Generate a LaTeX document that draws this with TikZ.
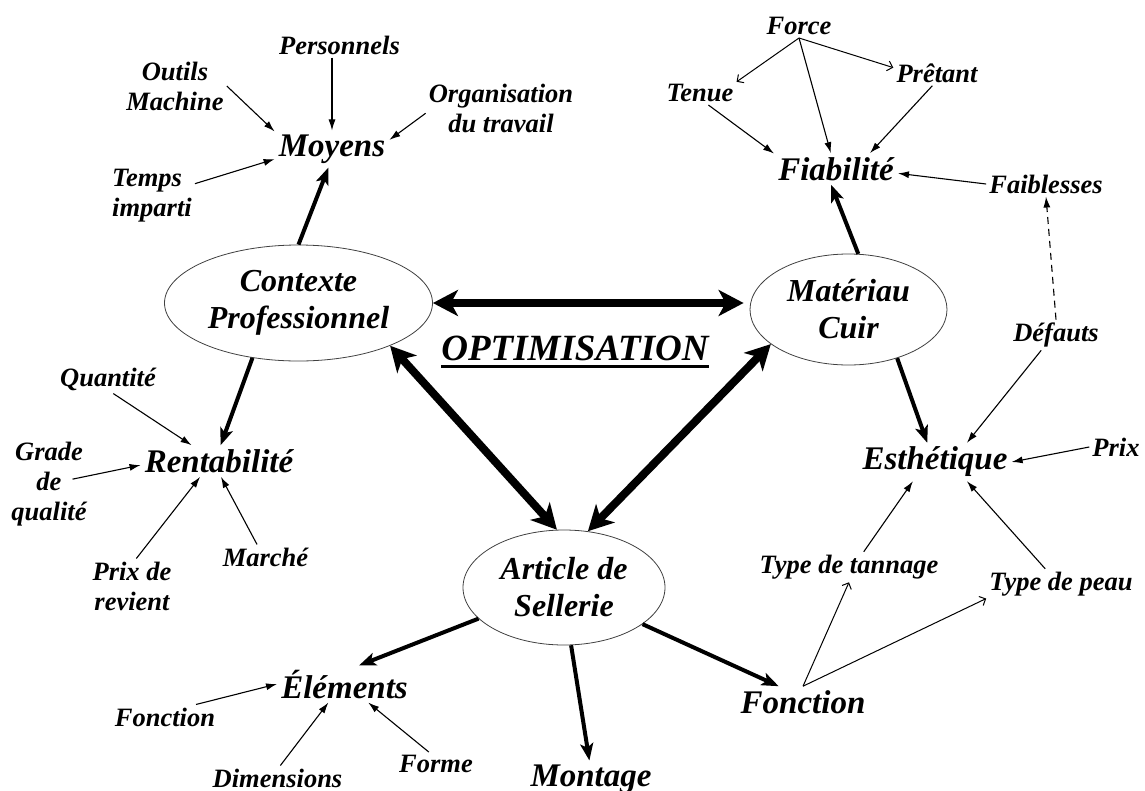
\documentclass[tikz,border=0pt]{standalone}
\usepackage{fontspec}
\setmainfont{Liberation Serif}
\usetikzlibrary{shapes.geometric,arrows.meta}

\newcommand{\boldunder}[1]{\vtop{\hbox{#1}\kern3.5pt\hrule height 3pt}}

\tikzset{
  hub/.style={ellipse, draw=black!75, line width=0.8pt, inner sep=0pt, align=center,
    font=\fontsize{32}{37}\selectfont\bfseries\itshape},
  topic/.style={inner sep=4pt, font=\fontsize{33}{38}\selectfont\bfseries\itshape},
  leaf/.style={inner sep=3pt, align=center, font=\fontsize{26.5}{30}\selectfont\bfseries\itshape},
  headline/.style={inner sep=2pt, font=\fontsize{37}{42}\selectfont\bfseries\itshape},
  bond/.style={line width=8pt, {Stealth[length=25pt,width=26pt,inset=7pt]}-{Stealth[length=25pt,width=26pt,inset=7pt]}},
  link/.style={line width=4pt, -{Stealth[length=17pt,width=13pt,inset=4pt]}},
  feed/.style={line width=1.1pt, -{Latex[length=11pt,width=7pt]}},
  hint/.style={line width=1pt, -{Straight Barb[length=5pt,width=10pt]}},
}

\begin{document}
\begin{tikzpicture}[x=1pt, y=-1pt]
    \useasboundingbox (0,0) rectangle (1145,790);

    % define nodes
    \node[hub, minimum width=268pt, minimum height=116pt] (contexte) at (298.5,303) {Contexte\\Professionnel};
    \node[hub, minimum width=197pt, minimum height=111pt] (materiau) at (848.5,309.5) {Matériau\\Cuir};
    \node[hub, minimum width=202pt, minimum height=115pt] (article) at (564,587.5) {Article de\\Sellerie};
    \node[headline] (optim) at (575,352) {\boldunder{OPTIMISATION}};

    \node[topic] (moyens) at (332,149) {Moyens};
    \node[topic] (rentab) at (219,461) {Rentabilité};
    \node[topic] (fiab) at (836,169) {Fiabilité};
    \node[topic] (esth) at (935,462) {Esthétique};
    \node[topic] (elements) at (344.5,684) {Éléments};
    \node[topic] (fonction) at (803,702) {Fonction};
    \node[topic] (montage) at (591,779) {Montage};

    \node[leaf] (personnels) at (339.5,45) {Personnels};
    \node[leaf] (outils) at (175,86) {Outils\\Machine};
    \node[leaf] (orga) at (501,108) {Organisation\\du travail};
    \node[leaf, align=left] (temps) at (152,196) {Temps\\imparti};
    \node[leaf] (quantite) at (108,379) {Quantité};
    \node[leaf] (grade) at (49,484) {Grade\\de\\qualité};
    \node[leaf] (prixrev) at (132,586) {Prix de\\revient};
    \node[leaf] (marche) at (265.5,557) {Marché};
    \node[leaf] (fonctel) at (165,717) {Fonction};
    \node[leaf] (dimensions) at (277.5,778) {Dimensions};
    \node[leaf] (forme) at (436,764) {Forme};
    \node[leaf] (tannage) at (849,567) {Type de tannage};
    \node[leaf] (peau) at (1061,584) {Type de peau};
    \node[leaf] (prix) at (1116,447) {Prix};
    \node[leaf] (force) at (799,26) {Force};
    \node[leaf] (tenue) at (700,93) {Tenue};
    \node[leaf] (pretant) at (937,73) {Prêtant};
    \node[leaf] (faiblesses) at (1046,184) {Faiblesses};
    \node[leaf] (defauts) at (1056,335) {Défauts};

    % connect the hubs
    \draw[bond, shorten >=6pt] (contexte.east) -- (contexte.east -| materiau.west);
    \draw[bond] (contexte.335) -- (article.97);
    \draw[bond] (materiau.204) -- (article.67);

    \draw[link] (contexte.north) -- (moyens.259);
    \draw[link] (contexte.230) -- (rentab.84);
    \draw[link] (materiau.80) -- (fiab.253);
    \draw[link] (materiau.315) -- (esth.112);
    \draw[link] (article.200) -- (elements.52);
    \draw[link] (article.277) -- (montage.95);
    \draw[link] (article.335) -- (fonction.147);

    % connect the leaves
    \draw[feed] (outils.east) -- (moyens.163);
    \draw[feed] (personnels.south -| moyens.north) -- (moyens.north);
    \draw[feed] (orga.184) -- (moyens.9);
    \draw[feed] (temps.16) -- (moyens.190);

    \draw[feed] (quantite.290) -- (rentab.150);
    \draw[feed, shorten <=24pt] (grade.center) -- (rentab.183);
    \draw[feed] (prixrev.81) -- (rentab.220);
    \draw[feed] (marche.124) -- (rentab.277);

    \draw[feed] (fonctel.22) -- (elements.west);
    \draw[feed] (dimensions.77) -- (elements.229);
    \draw[feed] (forme.121) -- (elements.322);

    \draw[hint] (fonction.north) -- (tannage.south);
    \draw[hint] (fonction.north) -- (peau.191);
    \draw[feed] (tannage.46) -- (esth.221);
    \draw[feed] (peau.136) -- (esth.329);
    \draw[feed] (prix.west) -- (esth.east);
    \draw[feed] (defauts.226) -- (esth.31);
    \draw[feed, dash pattern=on 7pt off 5pt] (defauts.north) -- (faiblesses.south);

    \draw[feed] (faiblesses.west) -- (fiab.356);
    \draw[hint] (force.south) -- (tenue.17);
    \draw[hint] (force.south) -- (pretant.173);
    \draw[feed] (force.south) -- (fiab.108);
    \draw[feed] (tenue.305) -- (fiab.166);
    \draw[feed] (pretant.250) -- (fiab.25);

\end{tikzpicture}
\end{document}
